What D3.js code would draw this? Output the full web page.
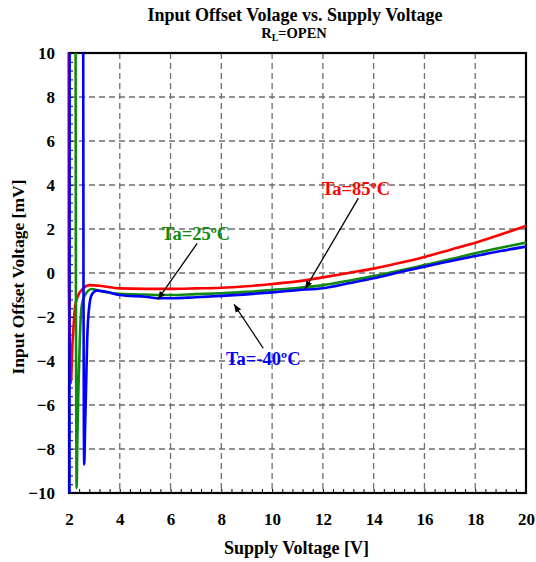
<!DOCTYPE html>
<html>
<head>
<meta charset="utf-8">
<script src="https://cdn.jsdelivr.net/npm/d3@7"></script>
<style>
  body { margin: 0; background: #fff; }
  text { font-family: "Liberation Serif", "Times New Roman", serif; font-weight: bold; }
</style>
</head>
<body>
<svg id="chart"></svg>
<script>
// axis ticks
const xTicks = [2, 4, 6, 8, 10, 12, 14, 16, 18, 20];
const yTicks = [-10, -8, -6, -4, -2, 0, 2, 4, 6, 8, 10];

// Ta = 85 C
const vdd85 = [1.99, 1.995, 2.03, 2.06, 2.08, 2.1, 2.13, 2.17, 2.24, 2.37, 2.56, 2.8, 3.2, 4, 5, 6, 7, 8, 9, 10, 11, 12, 13, 14, 15, 16, 17, 18, 19, 20];
const vos85 = [10, 0, -3.2, -4.6, -5.0, -4.4, -3.4, -2.6, -1.5, -1.0, -0.7, -0.55, -0.58, -0.7, -0.72, -0.72, -0.7, -0.67, -0.6, -0.5, -0.38, -0.2, 0.0, 0.2, 0.45, 0.73, 1.05, 1.37, 1.75, 2.14];

// Ta = 25 C
const vdd25 = [2.26, 2.27, 2.29, 2.3, 2.33, 2.37, 2.43, 2.5, 2.63, 2.9, 3.35, 4, 5, 6, 7, 8, 9, 10, 11, 12, 13, 14, 15, 16, 17, 18, 19, 20];
const vos25 = [10, 0, -8, -9.77, -7.5, -5.3, -2.9, -1.5, -1.0, -0.73, -0.85, -0.95, -0.98, -1.0, -0.96, -0.92, -0.86, -0.77, -0.68, -0.55, -0.35, -0.14, 0.1, 0.36, 0.62, 0.9, 1.15, 1.38];

// Ta = -40 C (NaN = break in the trace)
const vddM40 = [2.02, 2.025, 2.3, 2.56, 2.57, 2.585, 2.6, 2.63, 2.67, 2.72, 2.8, 2.89, 3.09, 3.6, 4, 5, 5.6, 6, 7, 8, 9, 10, 11, 12, 13, 14, 15, 16, 17, 18, 19, 20];
const vosM40 = [-10, 10, NaN, 10, 0, -7, -8.7, -7.2, -5.3, -2.9, -1.5, -1.0, -0.8, -0.89, -1.0, -1.08, -1.15, -1.15, -1.1, -1.04, -0.97, -0.88, -0.78, -0.69, -0.47, -0.24, 0.03, 0.29, 0.53, 0.77, 1.0, 1.2];

const seriesNames = ['Ta=85ºC', 'Ta=25ºC', 'Ta=-40ºC'];
const seriesColors = ['#ff0000', '#108a10', '#0000ff'];
// label anchor and arrow (from -> to), in data units
const labelPos = [[13.3, 3.55], [7.0, 1.5], [9.65, -4.2]];
const arrowFrom = [[13.4, 3.4], [7.05, 1.35], [9.65, -3.42]];
const arrowTo = [[11.3, -0.72], [5.5, -1.2], [8.5, -1.42]];

const width = 536, height = 562;
const margin = {top: 53, right: 10, bottom: 69, left: 69};

const svg = d3.select('#chart')
  .attr('width', width)
  .attr('height', height);

const x = d3.scaleLinear().domain([2, 20]).range([margin.left, width - margin.right]);
const y = d3.scaleLinear().domain([-10, 10]).range([height - margin.bottom, margin.top]);

const minorX = d3.range(2, 20.001, 0.4).map(v => +v.toFixed(1));
const minorY = d3.range(-10, 10.001, 0.4).map(v => +v.toFixed(1));

// titles
svg.append('text')
  .attr('x', 295).attr('y', 21)
  .attr('text-anchor', 'middle')
  .style('font-size', '18px')
  .text('Input Offset Volage vs. Supply Voltage');

const sub = svg.append('text')
  .attr('x', 294).attr('y', 38)
  .attr('text-anchor', 'middle')
  .style('font-size', '14.5px');
sub.append('tspan').text('R');
sub.append('tspan').attr('dy', 3).style('font-size', '10px').text('L');
sub.append('tspan').attr('dy', -3).text('=OPEN');

// grid
const grid = svg.append('g')
  .attr('stroke', '#6e6e6e')
  .attr('stroke-width', 1.3)
  .attr('stroke-dasharray', '6,4');

grid.selectAll('.gx')
  .data(xTicks.slice(1, -1))
  .enter()
  .append('line')
    .attr('x1', d => x(d)).attr('x2', d => x(d))
    .attr('y1', y(10)).attr('y2', y(-10));

grid.selectAll('.gy')
  .data(yTicks.slice(1, -1))
  .enter()
  .append('line')
    .attr('x1', x(2)).attr('x2', x(20))
    .attr('y1', d => y(d)).attr('y2', d => y(d));

// minor ticks (inside)
svg.append('g')
  .attr('transform', `translate(0,${y(-10)})`)
  .call(d3.axisBottom(x).tickValues(minorX).tickSize(-4).tickFormat(''))
  .call(g => g.select('.domain').remove())
  .call(g => g.selectAll('line').attr('stroke', '#000').attr('stroke-width', 1));

svg.append('g')
  .attr('transform', `translate(${x(2)},0)`)
  .call(d3.axisLeft(y).tickValues(minorY).tickSize(-4).tickFormat(''))
  .call(g => g.select('.domain').remove())
  .call(g => g.selectAll('line').attr('stroke', '#000').attr('stroke-width', 1));

// tick labels
svg.append('g')
  .attr('transform', `translate(0,${y(-10)})`)
  .call(d3.axisBottom(x).tickValues(xTicks).tickSize(0).tickPadding(20))
  .call(g => g.select('.domain').remove())
  .call(g => g.selectAll('text')
    .attr('fill', '#000')
    .style('font-size', '17px')
    .style('font-family', '"Liberation Serif", "Times New Roman", serif'));

svg.append('g')
  .attr('transform', `translate(${x(2)},0)`)
  .call(d3.axisLeft(y).tickValues(yTicks).tickSize(0).tickPadding(14))
  .call(g => g.select('.domain').remove())
  .call(g => g.selectAll('text')
    .attr('fill', '#000')
    .style('font-size', '17px')
    .style('font-family', '"Liberation Serif", "Times New Roman", serif'));

// axis titles
svg.append('text')
  .attr('x', (x(2) + x(20)) / 2 - 1).attr('y', 554)
  .attr('text-anchor', 'middle')
  .style('font-size', '18px')
  .text('Supply Voltage [V]');

svg.append('text')
  .attr('transform', `translate(24,${(y(10) + y(-10)) / 2 + 4}) rotate(-90)`)
  .attr('text-anchor', 'middle')
  .style('font-size', '17.5px')
  .text('Input Offset Voltage [mV]');

// frame
svg.append('rect')
  .attr('x', x(2)).attr('y', y(10))
  .attr('width', x(20) - x(2)).attr('height', y(-10) - y(10))
  .attr('fill', 'none')
  .attr('stroke', '#000')
  .attr('stroke-width', 2.2);

// curves
const series = [
  d3.zip(vdd85, vos85),
  d3.zip(vdd25, vos25),
  d3.zip(vddM40, vosM40)
];

const line = d3.line()
  .defined(d => !isNaN(d[1]))
  .x(d => x(d[0]))
  .y(d => y(d[1]))
  .curve(d3.curveMonotoneX);

svg.append('g')
  .selectAll('path')
  .data(series)
  .enter()
  .append('path')
    .attr('d', line)
    .attr('fill', 'none')
    .attr('stroke', (d, i) => seriesColors[i])
    .attr('stroke-width', 2.6)
    .attr('stroke-linejoin', 'round');

// annotations
svg.append('defs').append('marker')
  .attr('id', 'arrow')
  .attr('viewBox', '0 0 10 10')
  .attr('refX', 10).attr('refY', 5)
  .attr('markerWidth', 8).attr('markerHeight', 8)
  .attr('markerUnits', 'userSpaceOnUse')
  .attr('orient', 'auto')
  .append('path')
    .attr('d', 'M0,1 L10,5 L0,9 Z')
    .attr('fill', '#000');

svg.append('g')
  .selectAll('line')
  .data(seriesNames)
  .enter()
  .append('line')
    .attr('x1', (d, i) => x(arrowFrom[i][0]))
    .attr('y1', (d, i) => y(arrowFrom[i][1]))
    .attr('x2', (d, i) => x(arrowTo[i][0]))
    .attr('y2', (d, i) => y(arrowTo[i][1]))
    .attr('stroke', '#000')
    .attr('stroke-width', 1.3)
    .attr('marker-end', 'url(#arrow)');

svg.append('g')
  .selectAll('text')
  .data(seriesNames)
  .enter()
  .append('text')
    .attr('x', (d, i) => x(labelPos[i][0]))
    .attr('y', (d, i) => y(labelPos[i][1]))
    .attr('text-anchor', 'middle')
    .attr('fill', (d, i) => seriesColors[i])
    .style('font-size', '18.5px')
    .text(d => d);
</script>
</body>
</html>
